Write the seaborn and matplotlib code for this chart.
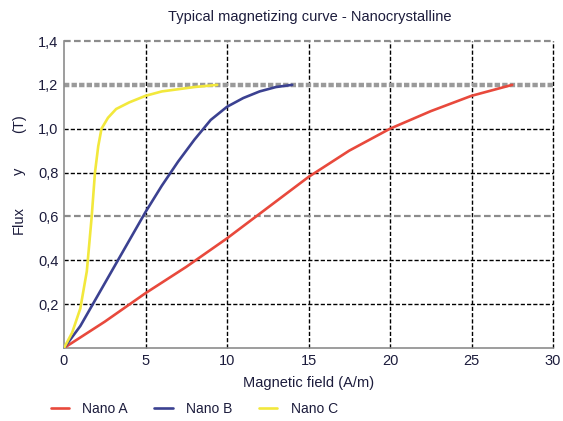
import matplotlib
matplotlib.use("Agg")
import matplotlib.pyplot as plt
import seaborn as sns
import pandas as pd

sns.set_theme(style="white")
plt.rcParams['font.family'] = ['Liberation Sans', 'DejaVu Sans']

# Data
nano_a_h = [0, 2.5, 5, 7.5, 10, 12.5, 15, 17.5, 20, 22.5, 25, 27.5]
nano_a_b = [0, 0.12, 0.25, 0.37, 0.50, 0.64, 0.78, 0.90, 1.00, 1.08, 1.15, 1.20]

nano_b_h = [0, 1, 2, 3, 4, 5, 6, 7, 8, 9, 10, 11, 12, 13, 14]
nano_b_b = [0, 0.10, 0.23, 0.36, 0.49, 0.62, 0.74, 0.85, 0.95, 1.04, 1.10, 1.14, 1.17, 1.19, 1.20]

nano_c_h = [0, 0.5, 1.0, 1.4, 1.7, 1.9, 2.1, 2.3, 2.7, 3.2, 4, 5, 6, 7, 8, 9.4]
nano_c_b = [0, 0.07, 0.18, 0.35, 0.60, 0.80, 0.92, 1.00, 1.05, 1.09, 1.12, 1.15, 1.17, 1.18, 1.19, 1.20]

series_names = ["Nano A", "Nano B", "Nano C"]
series_colors = ["#e8493c", "#3b4191", "#f2e83c"]

x_ticks = [0, 5, 10, 15, 20, 25, 30]
y_ticks = [0, 0.2, 0.4, 0.6, 0.8, 1.0, 1.2, 1.4]
y_tick_labels = ["", "0,2", "0,4", "0,6", "0,8", "1,0", "1,2", "1,4"]

df = pd.concat([
    pd.DataFrame({"H": nano_a_h, "B": nano_a_b, "series": "Nano A"}),
    pd.DataFrame({"H": nano_b_h, "B": nano_b_b, "series": "Nano B"}),
    pd.DataFrame({"H": nano_c_h, "B": nano_c_b, "series": "Nano C"}),
], ignore_index=True)

text_color = "#1c1c3c"

fig = plt.figure(figsize=(5.63, 4.21), dpi=100)
ax = fig.add_axes([64/563, 1-348/421, (553-64)/563, (348-41)/421])

ax.set_xlim(0, 30)
ax.set_ylim(0, 1.4)
ax.set_xticks(x_ticks)
ax.set_yticks(y_ticks)
ax.set_yticklabels(y_tick_labels)
ax.tick_params(axis='both', length=0, labelsize=10.5, colors=text_color, pad=4)

ax.grid(True, color="black", linestyle=(0, (3, 1.5)), linewidth=1.0)
for gl, yv in zip(ax.yaxis.get_gridlines(), y_ticks):
    gl.set_clip_on(False)
    if abs(yv - 0.6) < 1e-6 or abs(yv - 1.4) < 1e-6:
        gl.set_color("#8c8c8c")
        gl.set_linewidth(1.6)
    elif abs(yv - 1.2) < 1e-6:
        gl.set_color("#9a9a9a")
        gl.set_linewidth(3.2)
        gl.set_linestyle((0, (1.2, 0.5)))
    elif yv == 0:
        gl.set_visible(False)
for gl, xv in zip(ax.xaxis.get_gridlines(), x_ticks):
    gl.set_clip_on(False)
    if xv == 0:
        gl.set_visible(False)

sns.lineplot(data=df, x="H", y="B", hue="series", palette=series_colors,
             hue_order=series_names, linewidth=1.9, ax=ax, legend=True,
             sort=False, zorder=3)

for s in ["top", "right"]:
    ax.spines[s].set_visible(False)
for s in ["left", "bottom"]:
    ax.spines[s].set_color("#8c8c8c")
    ax.spines[s].set_linewidth(1.2)

ax.set_xlabel("Magnetic field (A/m)", fontsize=10.5, color=text_color, labelpad=6)
ax.set_ylabel("")
fig.text(310/563, 1-17/421, "Typical magnetizing curve - Nanocrystalline",
         ha="center", va="center", fontsize=10.5, color=text_color)
fig.text(19/563, 1-220/421, "Flux", rotation=90, ha="center", va="center",
         fontsize=10.5, color=text_color)
fig.text(19/563, 1-171/421, "y", rotation=90, ha="center", va="center",
         fontsize=10.5, color=text_color)
fig.text(19/563, 1-124/421, "(T)", rotation=90, ha="center", va="center",
         fontsize=10.5, color=text_color)

handles, labels = ax.get_legend_handles_labels()
ax.get_legend().remove()
leg = fig.legend(handles, labels, loc="center left", bbox_to_anchor=(38/563, 1-409/421),
                 ncol=3, frameon=False, fontsize=10, handlelength=1.3,
                 columnspacing=1.9, handletextpad=1.0)
for t in leg.get_texts():
    t.set_color(text_color)

fig.savefig("out.png", dpi=100)
